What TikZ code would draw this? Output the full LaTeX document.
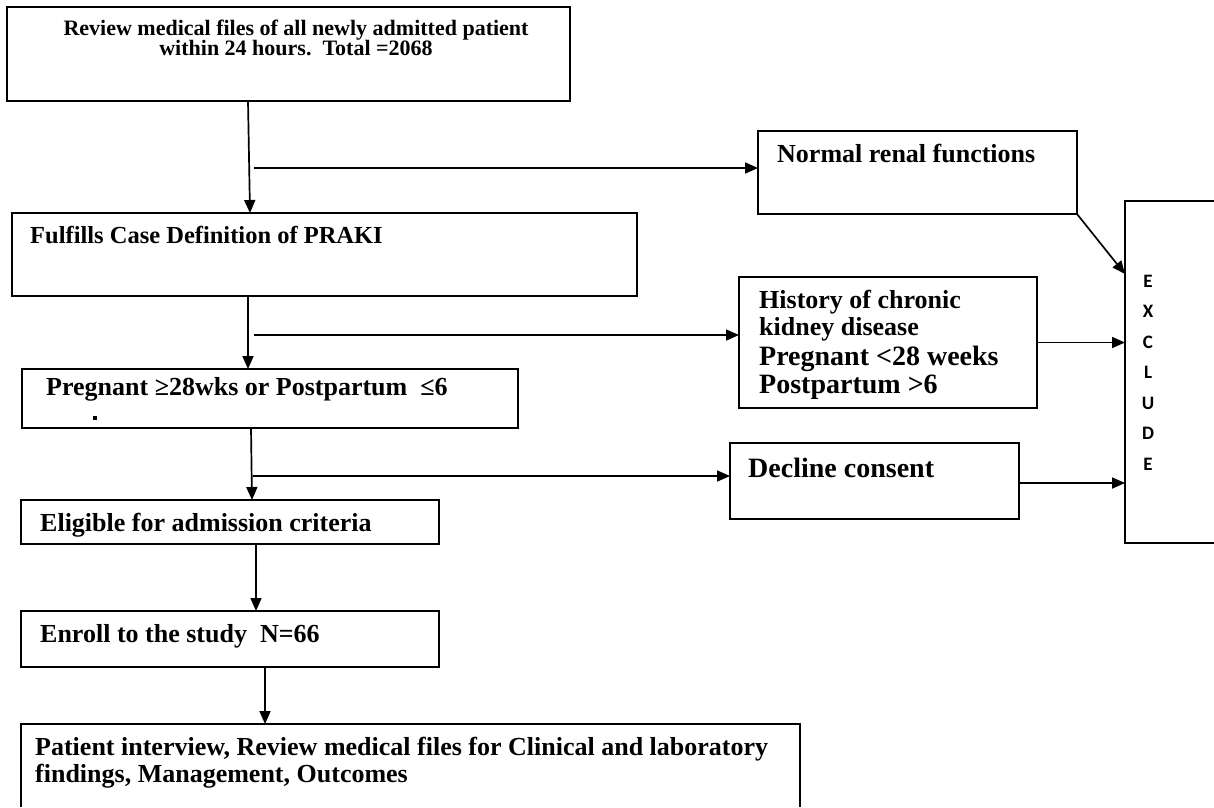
\documentclass[tikz,border=0pt]{standalone}
\usepackage{fontspec}
\setmainfont{Liberation Serif}
\newfontfamily\calib{Carlito}
\usetikzlibrary{arrows.meta}
\begin{document}
\begin{tikzpicture}[x=1pt,y=-1pt,
 box/.style={draw=black,line width=1.7pt,inner sep=0pt,outer sep=0pt,rectangle},
 openbox/.style={draw=none,inner sep=0pt,outer sep=0pt,rectangle},
 side/.style={line width=1.7pt},
 arr/.style={line width=1.7pt,-{Triangle[length=13pt,width=11pt]}},
 txt/.style={inner sep=0pt,anchor=base west,font=\bfseries\fontsize{26}{26}\selectfont},
 txtc/.style={inner sep=0pt,anchor=base,font=\bfseries\fontsize{22}{22}\selectfont},
 big/.style={font=\bfseries\fontsize{28}{28}\selectfont},
 exl/.style={inner sep=0pt,anchor=center,font=\calib\bfseries\fontsize{19}{19}\selectfont},
]
\useasboundingbox (0,0) rectangle (1214,807);
\fill[white] (0,0) rectangle (1214,807);

% boxes
\node[box,minimum width=563pt,minimum height=94pt] (b1) at (288.5,54) {};
\node[box,minimum width=319pt,minimum height=83pt] (normal) at (917.5,172.5) {};
\node[box,minimum width=625pt,minimum height=83pt] (fulfills) at (324.5,254.5) {};
\node[box,minimum width=298pt,minimum height=131pt] (history) at (888,342.5) {};
\node[box,minimum width=496pt,minimum height=59pt] (pregnant) at (270,398.5) {};
\node[box,minimum width=289pt,minimum height=76pt] (decline) at (874.5,481) {};
\node[box,minimum width=418pt,minimum height=44pt] (eligible) at (230,522) {};
\node[box,minimum width=418pt,minimum height=56pt] (enroll) at (230,639) {};
\node[openbox,minimum width=779pt,minimum height=83pt] (patient) at (410.5,765.5) {};
\draw[side] (patient.south west) -- (patient.north west) -- (patient.north east) -- (patient.south east);
\node[openbox,minimum width=89pt,minimum height=342pt] (ex) at (1169.5,372) {};
\draw[side] (ex.north east) -- (ex.north west) -- (ex.south west) -- (ex.south east);

% texts
\node[txtc] (t1a) at (296,35) {Review medical files of all newly admitted patient};
\node[txtc] (t1b) at (296,55) {within 24 hours.\ \ Total =2068};
\node[txt] (tn) at (777,162) {Normal renal functions};
\node[txt,font=\bfseries\fontsize{24.5}{24.5}\selectfont] (tf) at (30,243) {Fulfills Case Definition of PRAKI};
\node[txt] (th1) at (759,308) {History of chronic};
\node[txt] (th2) at (759,335) {kidney disease};
\node[txt,big] (th3) at (759,365) {Pregnant <28 weeks};
\node[txt,big] (th4) at (759,393) {Postpartum >6};
\node[txt] (tp) at (46,395) {Pregnant ≥28wks or Postpartum\ \ ≤6};
\fill (93,416) rectangle (97,420);
\node[txt,big] (td) at (748,477) {Decline consent};
\node[txt] (te) at (40,531) {Eligible for admission criteria};
\node[txt] (ten) at (40,642) {Enroll to the study\ \ N=66};
\node[txt] (tpa) at (35,755) {Patient interview, Review medical files for Clinical and laboratory};
\node[txt] (tpb) at (35,782) {findings, Management, Outcomes};
\foreach \l/\yy [count=\i] in {E/281,X/311.5,C/342,L/372.5,U/403,D/433.5,E/464}
  \node[exl] (exl\i) at (1148,\yy) {\l};

% connectors
\coordinate (j1) at (254,168);
\coordinate (j2) at (254,335);
\coordinate (j3) at (253,476);
\coordinate (d9) at ([yshift=-2pt]decline.east);
\draw[arr] ([xshift=-40.5pt]b1.south) -- ([xshift=-74.5pt]fulfills.north);
\draw[arr] (j1) -- (j1 -| normal.west);
\draw[arr] (normal.south east) -- ([yshift=-73pt]ex.north west);
\draw[arr] ([xshift=-76.5pt]fulfills.south) -- ([xshift=-22pt]pregnant.north);
\draw[arr] (j2) -- (j2 -| history.west);
\draw[arr] (history.east) -- (history.east -| ex.west);
\draw[arr] ([xshift=-19pt]pregnant.south) -- ([xshift=22pt]eligible.north);
\draw[arr] (j3) -- (j3 -| decline.west);
\draw[arr] (d9) -- (d9 -| ex.west);
\draw[arr] ([xshift=26pt]eligible.south) -- ([xshift=26pt]enroll.north);
\draw[arr] ([xshift=35pt]enroll.south) -- ([xshift=-145.5pt]patient.north);
\end{tikzpicture}
\end{document}
